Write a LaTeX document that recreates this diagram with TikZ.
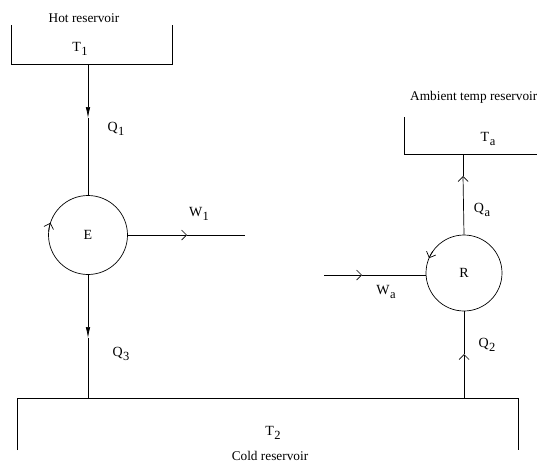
\documentclass[tikz,border=0pt]{standalone}
\usepackage{fontspec}
\setmainfont{Liberation Serif}
\usetikzlibrary{arrows.meta}
\newcommand{\lsub}[2]{#1\kern0.5pt\raisebox{-4.5pt}{\fontsize{12.5}{12.5}\selectfont #2}}
\tikzset{
  wire/.style={line width=0.7pt, black},
  lbl/.style={font=\fontsize{14}{14}\selectfont, inner sep=0pt},
  resname/.style={font=\fontsize{13.3}{13.5}\selectfont, inner sep=0pt},
  fill arrow/.style={-{Latex[length=11pt,width=4.5pt]}},
  barb arrow/.style={-{Straight Barb[length=5pt,width=10pt,line width=0.7pt]}},
  engine/.style={circle, draw, line width=0.7pt, minimum size=79pt, inner sep=0pt, font=\fontsize{14}{14}\selectfont}
}
\begin{document}
\begin{tikzpicture}[x=1pt,y=-1pt]
\useasboundingbox (0,0) rectangle (537,464);
% Hot reservoir
\draw[wire] (11,25) -- (11,64) -- (172,64) -- (172,25);
\node[resname] (hotname) at (84,18) {Hot reservoir};
\node[lbl] (T1) at (80,49) {\lsub{T}{1}};
\coordinate (hotout) at (88,64);
% Engine
\node[engine] (E) at (88,235) {E};
\coordinate (q1mid) at (88,118);
\draw[wire,fill arrow] (hotout) -- (q1mid);
\draw[wire] (q1mid) -- (E.north);
\node[lbl] (Q1) at (116,129) {\lsub{Q}{1}};
\draw[wire,barb arrow] ([shift={(185:39.5)}]E.center) arc[start angle=185,end angle=198,radius=39.5];
% W1
\coordinate (w1end) at (245,235);
\coordinate (w1mid) at (187,235);
\draw[wire,barb arrow] (E.east) -- (w1mid);
\draw[wire] (w1mid) -- (w1end);
\node[lbl] (W1) at (199,214) {\lsub{W}{1}};
% Q3
\coordinate (coldin) at (88,398);
\coordinate (q3mid) at (88,338);
\draw[wire,fill arrow] (E.south) -- (q3mid);
\draw[wire] (q3mid) -- (coldin);
\node[lbl] (Q3) at (121,354) {\lsub{Q}{3}};
% Cold reservoir
\draw[wire] (17,450) -- (17,398) -- (518,398) -- (518,450);
\node[lbl] (T2) at (273,433) {\lsub{T}{2}};
\node[resname] (coldname) at (270,456) {Cold reservoir};
% Ambient reservoir
\draw[wire] (404,117) -- (404,154) -- (540,154);
\node[resname, anchor=west] (ambname) at (410,97) {Ambient temp reservoir};
\node[lbl] (Ta) at (488,139) {\lsub{T}{a}};
\coordinate (ambin) at (463,154);
% Refrigerator
\node[engine, minimum size=76pt] (R) at (464,273) {R};
\coordinate (qamid) at (463,176);
\draw[wire,barb arrow] (R.north) -- (qamid);
\draw[wire] (qamid) -- (ambin);
\node[lbl] (Qa) at (482,210) {\lsub{Q}{a}};
\draw[wire,barb arrow] ([shift={(215:38)}]R.center) arc[start angle=215,end angle=203,radius=38];
% Wa
\coordinate (wastart) at (324,275);
\coordinate (wamid) at (362,275);
\draw[wire,barb arrow] (wastart) -- (wamid);
\draw[wire] (wamid) -- (R.west |- wamid);
\node[lbl] (Wa) at (386,292) {\lsub{W}{a}};
% Q2
\coordinate (coldout) at (464,398);
\coordinate (q2mid) at (464,354);
\draw[wire,barb arrow] (coldout) -- (q2mid);
\draw[wire] (q2mid) -- (R.south);
\node[lbl] (Q2) at (487,345) {\lsub{Q}{2}};
\end{tikzpicture}
\end{document}
